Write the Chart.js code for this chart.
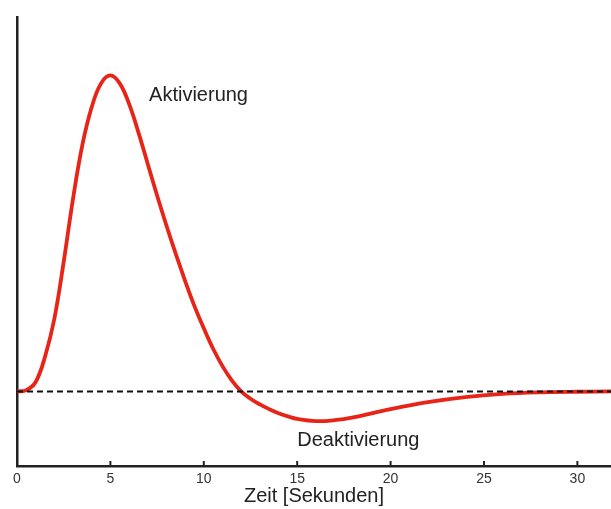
<!DOCTYPE html>
<html>
<head>
<meta charset="utf-8">
<script src="https://cdn.jsdelivr.net/npm/chart.js@4"></script>
<style>
  html, body { margin: 0; padding: 0; background: #fff; }
  #wrap { width: 611px; height: 509px; }
</style>
</head>
<body>
<div id="wrap"><canvas id="chart"></canvas></div>
<script>
// time in seconds and response (arbitrary units, baseline = 0, peak = 100)
const times = [0, 0.5, 1, 1.5, 2, 2.5, 3, 3.5, 4, 4.5, 5, 5.5, 6, 6.5, 7, 7.5, 8, 8.5, 9, 9.5, 10, 10.5, 11, 11.5, 12, 12.5, 13, 13.5, 14, 14.5, 15, 16, 17, 18, 20, 22, 24, 26, 28, 30, 31.8];
const response = [0, 0.4, 3, 11, 23, 41, 61, 78, 90, 97.5, 100, 97.5, 91, 82, 72, 62, 52.5, 43.5, 35, 27, 20, 13.5, 8, 3.5, 0, -2.3, -4.1, -5.6, -6.9, -7.9, -8.7, -9.4, -9.1, -8.2, -5.6, -3.4, -1.8, -0.8, -0.3, -0.1, 0];
const baseline = [0, 0];
const baselineTimes = [0, 31.8];
const xTicks = [0, 5, 10, 15, 20, 25, 30];
const labels = [
  { text: "Aktivierung", x: 7.07, y: 91.9 },
  { text: "Deaktivierung", x: 15.0, y: -17.2 }
];

const FONT = "'Liberation Sans', Arial, sans-serif";

const curve = times.map((t, i) => ({ x: t, y: response[i] }));
const dashed = baselineTimes.map((t, i) => ({ x: t, y: baseline[i] }));

// inward tick marks + text annotations
const extras = {
  id: "extras",
  afterDraw(chart) {
    const ctx = chart.ctx;
    const xs = chart.scales.x;
    const ys = chart.scales.y;
    ctx.save();
    ctx.strokeStyle = "#222";
    ctx.lineWidth = 2;
    xTicks.forEach(v => {
      const px = xs.getPixelForValue(v);
      ctx.beginPath();
      ctx.moveTo(px, xs.top);
      ctx.lineTo(px, xs.top - 5);
      ctx.stroke();
    });
    ctx.fillStyle = "#222";
    ctx.font = "20px " + FONT;
    ctx.textAlign = "left";
    ctx.textBaseline = "alphabetic";
    labels.forEach(l => {
      ctx.fillText(l.text, xs.getPixelForValue(l.x), ys.getPixelForValue(l.y));
    });
    ctx.restore();
  }
};

new Chart(document.getElementById("chart"), {
  type: "line",
  data: {
    datasets: [
      {
        data: dashed,
        borderColor: "#111",
        borderWidth: 2,
        borderDash: [6, 4],
        pointRadius: 0,
        order: 0
      },
      {
        data: curve,
        borderColor: "rgb(232, 36, 24)",
        borderWidth: 3.8,
        pointRadius: 0,
        tension: 0.4,
        order: 1
      }
    ]
  },
  options: {
    responsive: true,
    maintainAspectRatio: false,
    animation: false,
    layout: { padding: { left: 17, top: 17, right: 0, bottom: 0 } },
    plugins: { legend: { display: false }, tooltip: { enabled: false } },
    scales: {
      x: {
        type: "linear",
        min: 0,
        max: 31.8,
        afterFit: s => { s.height = 43; },
        afterBuildTicks: s => { s.ticks = xTicks.map(v => ({ value: v })); },
        grid: { display: false, drawTicks: false },
        border: { display: true, color: "#222", width: 2.5 },
        ticks: { padding: 5, color: "#333", font: { size: 14, family: FONT } },
        title: {
          display: true,
          text: "Zeit [Sekunden]",
          color: "#222",
          font: { size: 20, family: FONT },
          padding: { top: 0, bottom: 1 }
        }
      },
      y: {
        min: -23.6,
        max: 118.5,
        afterFit: s => { s.width = 0; },
        grid: { display: false, drawTicks: false },
        border: { display: true, color: "#222", width: 2.5 },
        ticks: { display: false }
      }
    }
  },
  plugins: [extras]
});
</script>
</body>
</html>
